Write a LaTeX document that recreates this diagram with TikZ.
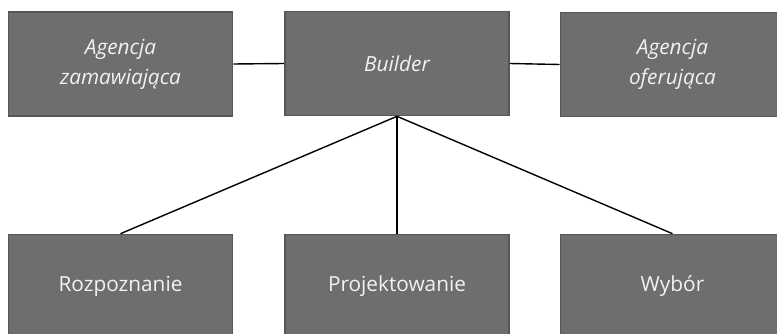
\documentclass[tikz,border=0pt]{standalone}
\usepackage{fontspec}
\setmainfont{Open Sans}
\definecolor{boxfill}{HTML}{6E6E6E}
\definecolor{boxline}{HTML}{565656}
\definecolor{boxtext}{HTML}{F2F2F2}
\begin{document}
\begin{tikzpicture}[x=1pt,y=-1pt,
  box/.style={draw=boxline, line width=1.6pt, fill=boxfill, text=boxtext,
    minimum width=224pt, minimum height=104pt, inner sep=0pt, align=center,
    font=\fontsize{20.8}{30}\selectfont},
  ibox/.style={box, font=\fontsize{20.8}{30}\selectfont\itshape},
  conn/.style={draw=black, line width=1.4pt}]
\useasboundingbox (0,0) rectangle (777,334);
\node[ibox] (za) at (120.5,64) {Agencja\\zamawiająca};
\node[ibox] (bu) at (397,63.5) {Builder};
\node[ibox] (of) at (672.5,64.5) {Agencja\\oferująca};
\node[box] (ro) at (120.5,286.5) {Rozpoznanie};
\node[box] (pr) at (397,286.5) {Projektowanie};
\node[box] (wy) at (672.5,286.5) {Wybór};
\draw[conn] (za.east) -- (bu.west);
\draw[conn] (bu.east) -- (of.west);
\draw[conn] (bu.south) -- (ro.north);
\draw[conn] (bu.south) -- (pr.north);
\draw[conn] (bu.south) -- (wy.north);
\end{tikzpicture}
\end{document}
